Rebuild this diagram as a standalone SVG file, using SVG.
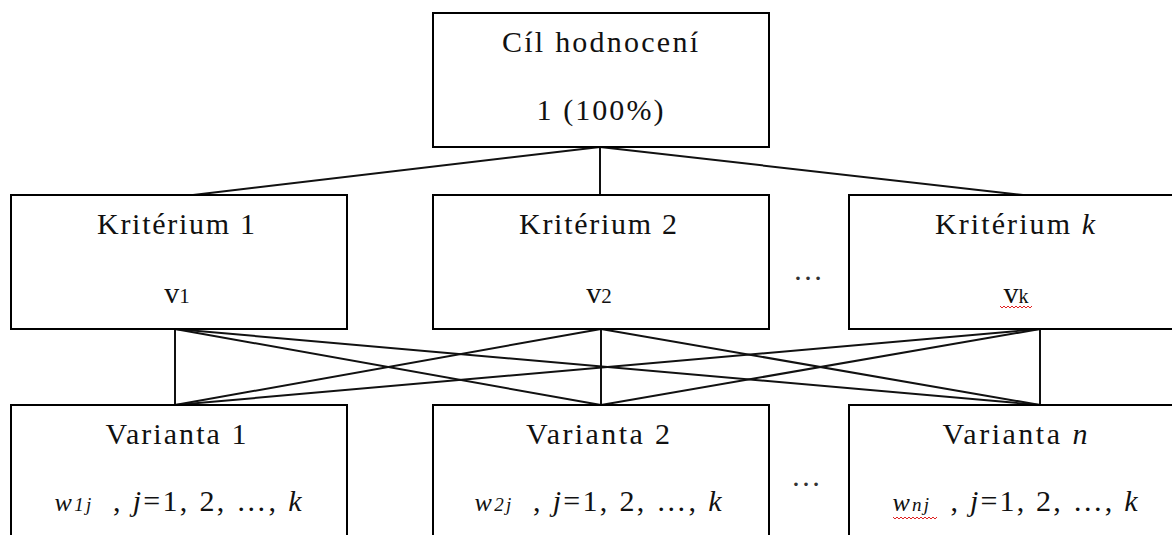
<svg xmlns="http://www.w3.org/2000/svg" width="1172" height="535" viewBox="0 0 1172 535">
  <style>
    .box { fill: #fff; stroke: #000; stroke-width: 2; }
    .edge { stroke: #111; stroke-width: 2; fill: none; }
    .t, .dots { font-family: "Liberation Serif", "Times New Roman", "DejaVu Serif", serif; font-size: 30px; text-anchor: middle; }
    .t { fill: #111; }
    .dots { fill: #333; }
    .i { font-style: italic; }
    .squiggle { stroke: #e02020; stroke-width: 1; fill: none; }
  </style>

  <rect width="1172" height="535" fill="#fff"/>

  <!-- connectors -->
  <g id="connectors">
    <line class="edge" x1="600" y1="147" x2="193" y2="195"/>
    <line class="edge" x1="600" y1="147" x2="600" y2="195"/>
    <line class="edge" x1="600" y1="147" x2="1023" y2="195"/>

    <line class="edge" x1="175" y1="329" x2="175" y2="405"/>
    <line class="edge" x1="175" y1="329" x2="601" y2="405"/>
    <line class="edge" x1="175" y1="329" x2="1040" y2="405"/>
    <line class="edge" x1="601" y1="329" x2="175" y2="405"/>
    <line class="edge" x1="601" y1="329" x2="601" y2="405"/>
    <line class="edge" x1="601" y1="329" x2="1040" y2="405"/>
    <line class="edge" x1="1040" y1="329" x2="175" y2="405"/>
    <line class="edge" x1="1040" y1="329" x2="601" y2="405"/>
    <line class="edge" x1="1040" y1="329" x2="1040" y2="405"/>
  </g>

  <!-- goal -->
  <g id="goal">
    <rect class="box" x="433" y="13" width="336" height="134"/>
    <text class="t" x="600" y="52" textLength="196" lengthAdjust="spacing">Cíl hodnocení</text>
    <text class="t" x="600" y="120" textLength="127" lengthAdjust="spacing">1 (100%)</text>
  </g>

  <!-- criteria -->
  <g id="criterion-1">
    <rect class="box" x="11" y="195" width="336" height="134"/>
    <text class="t" x="176" y="234" textLength="158" lengthAdjust="spacing">Kritérium 1</text>
    <text class="t" x="177" y="303">v<tspan font-size="21">1</tspan></text>
  </g>
  <g id="criterion-2">
    <rect class="box" x="433" y="195" width="336" height="134"/>
    <text class="t" x="598" y="234" textLength="158" lengthAdjust="spacing">Kritérium 2</text>
    <text class="t" x="599" y="303">v<tspan font-size="21">2</tspan></text>
  </g>
  <g id="criterion-k">
    <rect class="box" x="849" y="195" width="336" height="134"/>
    <text class="t" x="1015" y="234" textLength="160" lengthAdjust="spacing">Kritérium <tspan class="i">k</tspan></text>
    <text class="t" x="1016" y="303">v<tspan font-size="20">k</tspan></text>
    <polyline class="squiggle" points="1000,306 1002,308 1004,306 1006,308 1008,306 1010,308 1012,306 1014,308 1016,306 1018,308 1020,306 1022,308 1024,306 1026,308 1028,306 1030,308 1032,306"/>
  </g>
  <text class="dots" x="808" y="280">…</text>

  <!-- alternatives -->
  <g id="variant-1">
    <rect class="box" x="11" y="405" width="336" height="145"/>
    <text class="t" x="176" y="444" textLength="141" lengthAdjust="spacing">Varianta 1</text>
    <text class="t" x="178" y="511" textLength="247" lengthAdjust="spacing" xml:space="preserve"><tspan class="i" font-size="26">w</tspan><tspan class="i" font-size="19">1j</tspan>  , <tspan class="i">j</tspan>=1, 2, …, <tspan class="i">k</tspan></text>
  </g>
  <g id="variant-2">
    <rect class="box" x="433" y="405" width="336" height="145"/>
    <text class="t" x="598" y="444" textLength="144" lengthAdjust="spacing">Varianta 2</text>
    <text class="t" x="598" y="511" textLength="247" lengthAdjust="spacing" xml:space="preserve"><tspan class="i" font-size="26">w</tspan><tspan class="i" font-size="19">2j</tspan>  , <tspan class="i">j</tspan>=1, 2, …, <tspan class="i">k</tspan></text>
  </g>
  <g id="variant-n">
    <rect class="box" x="849" y="405" width="336" height="145"/>
    <text class="t" x="1015" y="444" textLength="145" lengthAdjust="spacing">Varianta <tspan class="i">n</tspan></text>
    <text class="t" x="1015" y="511" textLength="245" lengthAdjust="spacing" xml:space="preserve"><tspan class="i" font-size="26">w</tspan><tspan class="i" font-size="19">nj</tspan>  , <tspan class="i">j</tspan>=1, 2, …, <tspan class="i">k</tspan></text>
    <polyline class="squiggle" points="893,517 895,519 897,517 899,519 901,517 903,519 905,517 907,519 909,517 911,519 913,517 915,519 917,517 919,519 921,517 923,519 925,517 927,519 929,517 931,519 933,517 935,519 937,517"/>
  </g>
  <text class="dots" x="806" y="486">…</text>
</svg>
